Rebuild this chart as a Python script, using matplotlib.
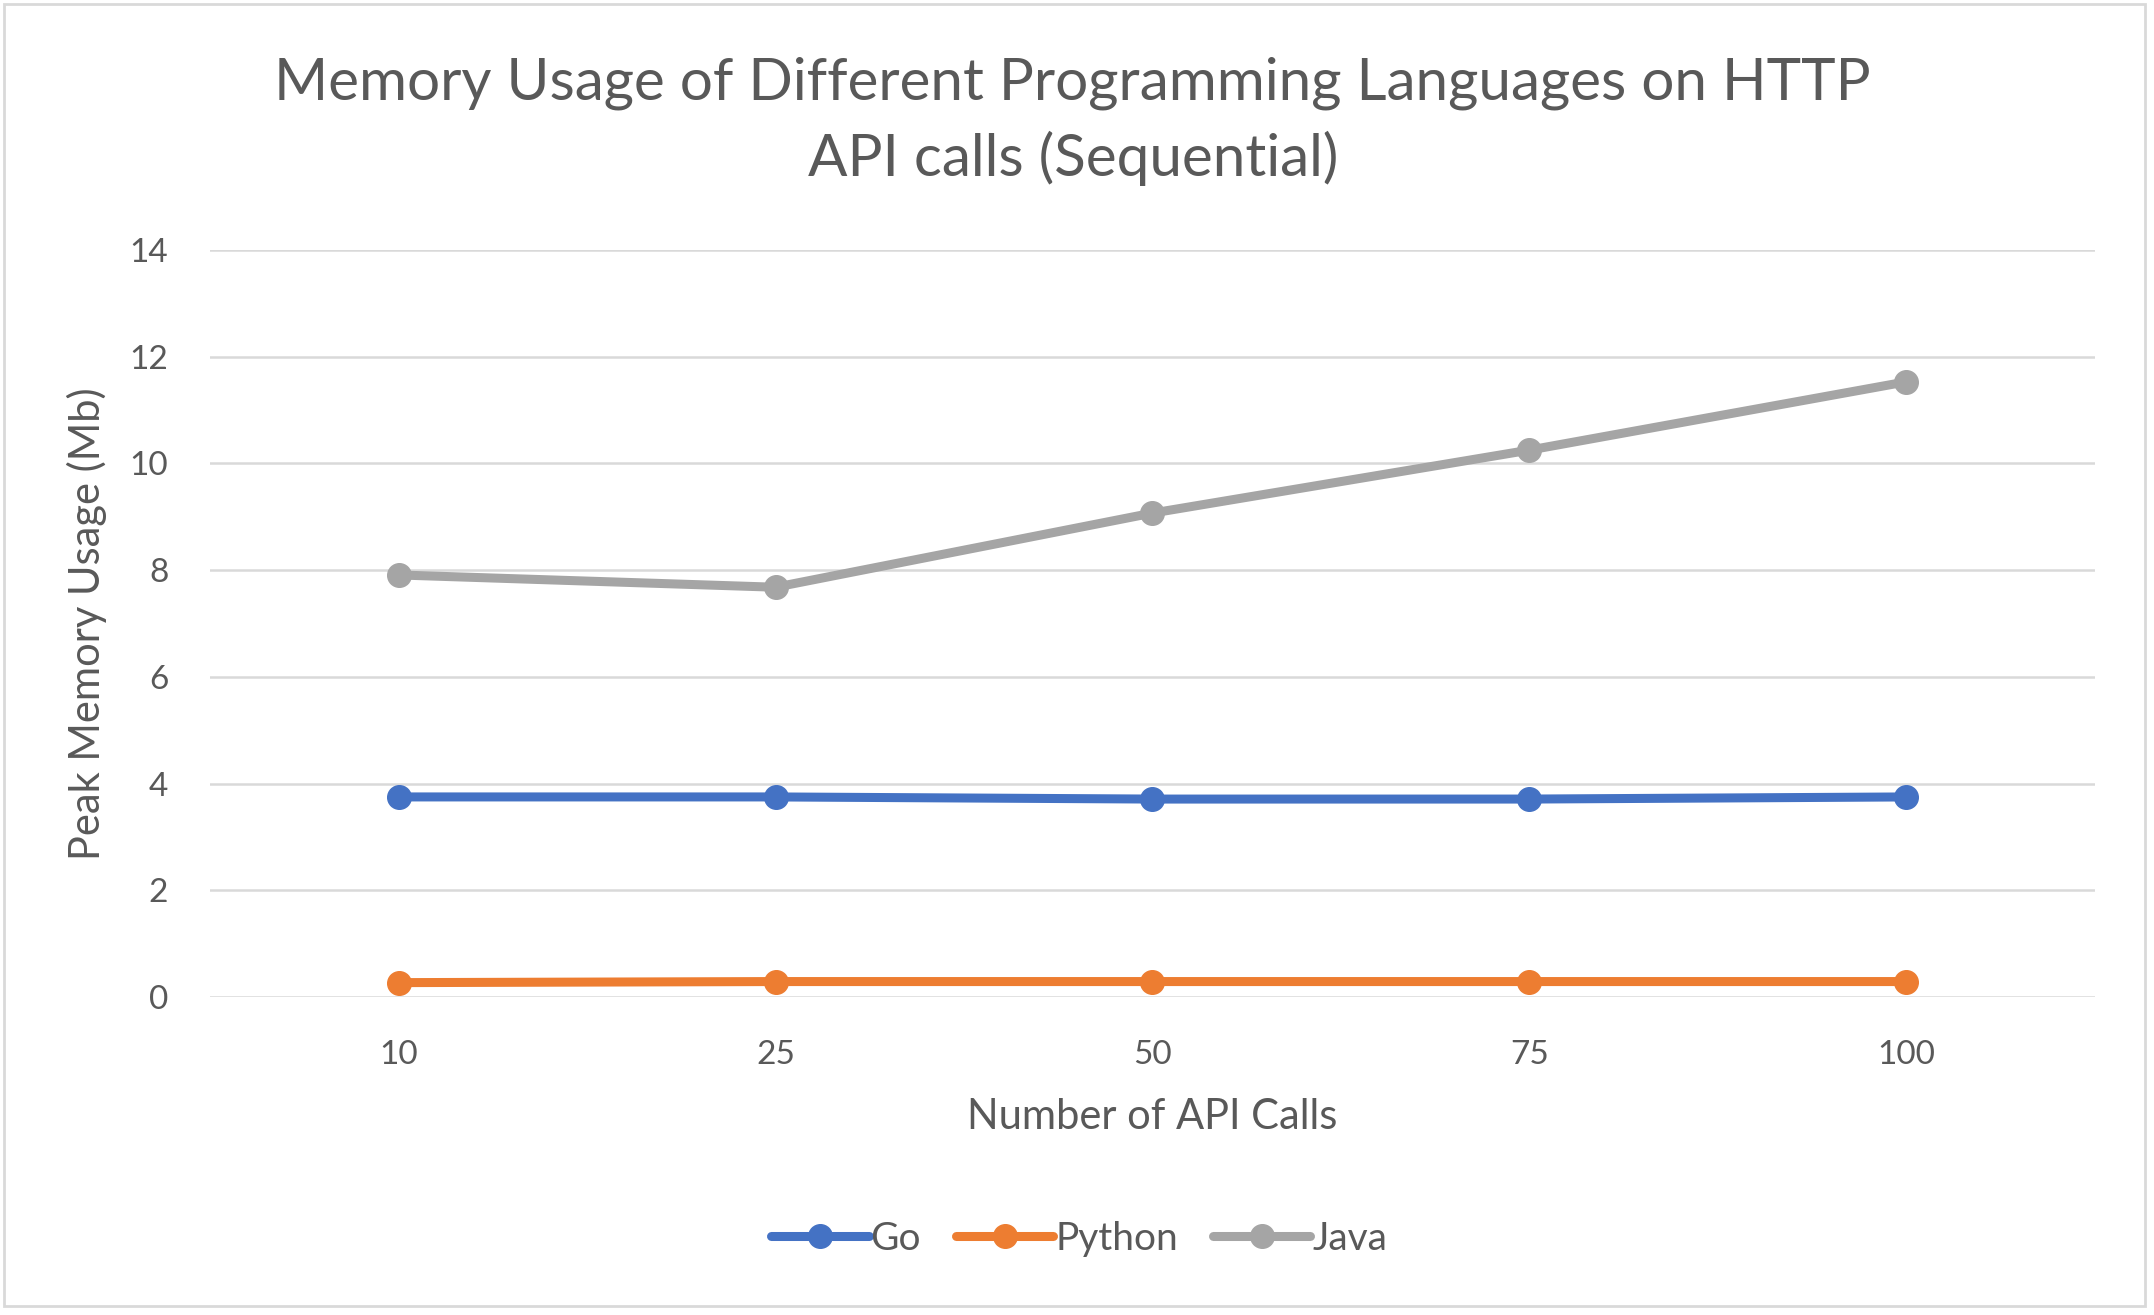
import matplotlib
matplotlib.use('Agg')
import matplotlib.pyplot as plt
from matplotlib.patches import Rectangle

# Data
calls = ['10', '25', '50', '75', '100']
go_mem = [3.75, 3.75, 3.71, 3.71, 3.75]
python_mem = [0.27, 0.29, 0.29, 0.29, 0.29]
java_mem = [7.91, 7.68, 9.07, 10.25, 11.53]

series = [('Go', go_mem, '#4472C4'),
          ('Python', python_mem, '#ED7D31'),
          ('Java', java_mem, '#A5A5A5')]

text_color = '#595959'
grid_color = '#D9D9D9'
plt.rcParams['font.family'] = ['Lato', 'DejaVu Sans']

fig = plt.figure(figsize=(21.54, 13.15), dpi=100)
ax = fig.add_axes([0.0975, 0.2418, 0.8751, 0.5681])

x = list(range(len(calls)))
for name, vals, color in series:
    ax.plot(x, vals, color=color, linewidth=6.5, marker='o', markersize=17,
            solid_capstyle='round', label=name)

ax.set_xlim(-0.5, len(calls) - 0.5)
ax.set_ylim(0, 14)
ax.set_yticks(range(0, 15, 2))
ax.set_xticks(x)
ax.set_xticklabels(calls)
ax.yaxis.grid(True, color=grid_color, linewidth=1.8)
ax.set_axisbelow(True)
for s in ax.spines.values():
    s.set_visible(False)
ax.tick_params(length=0, labelsize=24, colors=text_color)
ax.tick_params(axis='x', pad=31)
ax.tick_params(axis='y', pad=30)

ax.set_xlabel('Number of API Calls', fontsize=30, color=text_color, labelpad=20)
ax.set_ylabel('Peak Memory Usage (Mb)', fontsize=30, color=text_color, labelpad=16)

fig.text(0.498, 0.908, 'Memory Usage of Different Programming Languages on HTTP\nAPI calls (Sequential)',
         ha='center', va='center', fontsize=42, color=text_color, linespacing=1.45)

leg = fig.legend(loc='center', bbox_to_anchor=(0.501, 0.058), ncol=3, frameon=False,
                 fontsize=28, handlelength=2.5, handletextpad=0.05, columnspacing=0.9,
                 labelcolor=text_color)

fig.patches.append(Rectangle((0.002, 0.007), 0.994, 0.99, transform=fig.transFigure,
                             fill=False, edgecolor=grid_color, linewidth=2))

fig.savefig('out.png', dpi=100)
